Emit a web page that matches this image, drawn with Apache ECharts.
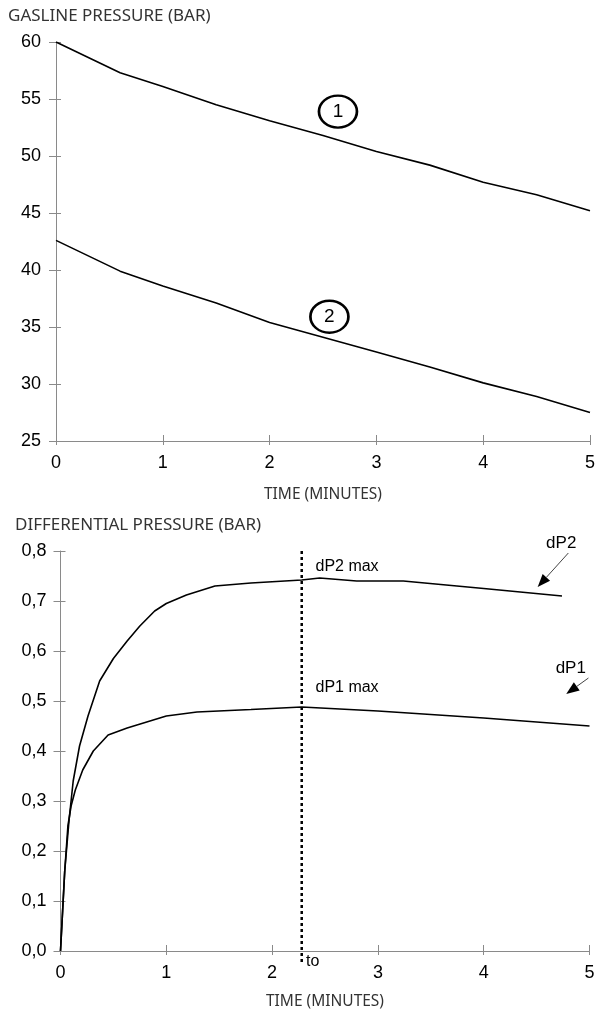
<!DOCTYPE html>
<html>
<head>
<meta charset="utf-8">
<script src="https://cdn.jsdelivr.net/npm/echarts@6/dist/echarts.min.js"></script>
<style>
  html, body { margin: 0; padding: 0; background: #fff; }
  #chart { width: 611px; height: 1011px; }
</style>
</head>
<body>
<div id="chart"></div>
<script>
// Gas line pressure over time (bar), two lines
const timeTicks = [0, 1, 2, 3, 4, 5];
const line1 = [[0, 60], [0.6, 57.3], [1, 56.1], [1.5, 54.5], [2, 53.1], [2.5, 51.8], [3, 50.4], [3.5, 49.2], [4, 47.7], [4.5, 46.6], [5, 45.2]];
const line2 = [[0, 42.6], [0.6, 39.9], [1, 38.6], [1.5, 37.1], [2, 35.4], [2.5, 34.1], [3, 32.8], [3.5, 31.5], [4, 30.1], [4.5, 28.9], [5, 27.5]];

// Differential pressure over time (bar)
const dP2 = [[0, 0], [0.02, 0.08], [0.04, 0.16], [0.08, 0.26], [0.12, 0.34], [0.18, 0.41], [0.26, 0.47], [0.37, 0.54], [0.5, 0.585], [0.63, 0.62], [0.75, 0.65], [0.89, 0.68], [1.0, 0.695], [1.19, 0.712], [1.46, 0.73], [1.8, 0.736], [2.28, 0.742], [2.45, 0.746], [2.8, 0.74], [3.24, 0.74], [4.0, 0.725], [4.74, 0.71]];
const dP1 = [[0, 0], [0.02, 0.08], [0.04, 0.16], [0.07, 0.25], [0.1, 0.29], [0.14, 0.322], [0.21, 0.362], [0.31, 0.4], [0.45, 0.432], [0.63, 0.446], [1.0, 0.47], [1.29, 0.478], [1.8, 0.483], [2.28, 0.488], [3.0, 0.48], [4.0, 0.466], [5.0, 0.45]];

// Time at which both differential pressures peak
const tMax = 2.28;

const chart = echarts.init(document.getElementById('chart'), null, { renderer: 'canvas' });

const tickFont = { fontFamily: 'Liberation Sans, Arial, sans-serif', fontSize: 18, color: '#000' };
const titleFont = { fontFamily: 'Noto Sans, sans-serif', fontSize: 15.5, color: '#333' };
const axisGrey = '#8a8a8a';

function xAxisPair(gridIndex, nameGap, margin) {
  return [
    {
      type: 'value', gridIndex, min: 0, max: 5, interval: 1,
      name: 'TIME (MINUTES)', nameLocation: 'middle', nameGap,
      nameTextStyle: titleFont,
      axisLine: { show: true, lineStyle: { color: axisGrey, width: 1 } },
      axisTick: { show: true, length: 4, lineStyle: { color: axisGrey } },
      axisLabel: Object.assign({ margin, formatter: v => String(v) }, tickFont),
      splitLine: { show: false }
    },
    {
      type: 'value', gridIndex, min: 0, max: 5, interval: 1, position: 'bottom',
      axisLine: { show: false },
      axisTick: { show: true, inside: true, length: 6, lineStyle: { color: axisGrey } },
      axisLabel: { show: false }, splitLine: { show: false }
    }
  ];
}

function yAxisPair(gridIndex, min, max, interval, fmt, margin) {
  return [
    {
      type: 'value', gridIndex, min, max, interval,
      axisLine: { show: true, lineStyle: { color: axisGrey, width: 1 } },
      axisTick: { show: true, length: 7, lineStyle: { color: axisGrey } },
      axisLabel: Object.assign({ margin, formatter: fmt }, tickFont),
      splitLine: { show: false }
    },
    {
      type: 'value', gridIndex, min, max, interval, position: 'left',
      axisLine: { show: false },
      axisTick: { show: true, inside: true, length: 5, lineStyle: { color: axisGrey } },
      axisLabel: { show: false }, splitLine: { show: false }
    }
  ];
}

const curveStyle = { color: '#000', width: 1.6 };

function ringMark(coord, text) {
  return {
    coord, symbol: 'circle', symbolSize: [38, 32],
    itemStyle: { color: 'rgba(0,0,0,0)', borderColor: '#000', borderWidth: 2.5 },
    label: {
      show: true, position: 'inside', formatter: text,
      fontFamily: 'Liberation Sans, Arial, sans-serif', fontSize: 19, color: '#000'
    }
  };
}

const option = {
  backgroundColor: '#fff',
  animation: false,
  grid: [
    { left: 56, top: 42, width: 534, height: 399 },
    { left: 60.5, top: 551, width: 529, height: 400 }
  ],
  xAxis: [...xAxisPair(0, 46, 13), ...xAxisPair(1, 43, 13)],
  yAxis: [
    ...yAxisPair(0, 25, 60, 5, v => String(v), 15),
    ...yAxisPair(1, 0, 0.8, 0.1, v => v.toFixed(1).replace('.', ','), 14)
  ],
  graphic: [
    { type: 'text', left: 8, top: 8, style: { text: 'GASLINE PRESSURE (BAR)', font: '17px "Noto Sans", sans-serif', fill: '#333' } },
    { type: 'text', left: 15, top: 517, style: { text: 'DIFFERENTIAL PRESSURE (BAR)', font: '17px "Noto Sans", sans-serif', fill: '#333' } }
  ],
  series: [
    {
      type: 'line', xAxisIndex: 0, yAxisIndex: 0, data: line1,
      symbol: 'none', lineStyle: curveStyle, silent: true,
      markPoint: { silent: true, data: [ringMark([2.64, 53.9], '1')] }
    },
    {
      type: 'line', xAxisIndex: 0, yAxisIndex: 0, data: line2,
      symbol: 'none', lineStyle: curveStyle, silent: true,
      markPoint: { silent: true, data: [ringMark([2.56, 35.9], '2')] }
    },
    {
      type: 'line', xAxisIndex: 2, yAxisIndex: 2, data: dP2,
      symbol: 'none', lineStyle: curveStyle, silent: true
    },
    {
      type: 'line', xAxisIndex: 2, yAxisIndex: 2, data: dP1,
      symbol: 'none', lineStyle: curveStyle, silent: true
    }
  ]
};

chart.setOption(option);

// Annotations for the differential-pressure panel, placed from data coordinates
const toPx = c => chart.convertToPixel({ xAxisIndex: 2, yAxisIndex: 2 }, c);

function label(coord, text, size) {
  const p = toPx(coord);
  return {
    type: 'text', x: p[0], y: p[1], silent: true,
    style: { text, font: (size || 16) + 'px "Liberation Sans", Arial, sans-serif', fill: '#000', textVerticalAlign: 'middle', textAlign: 'left' }
  };
}

function arrowShape(from, to) {
  const a = toPx(from), b = toPx(to);
  const ang = Math.atan2(b[1] - a[1], b[0] - a[0]);
  const len = 13, half = 5;
  const bx = b[0] - len * Math.cos(ang), by = b[1] - len * Math.sin(ang);
  const nx = -Math.sin(ang) * half, ny = Math.cos(ang) * half;
  return [
    { type: 'line', silent: true, shape: { x1: a[0], y1: a[1], x2: bx, y2: by }, style: { stroke: '#444', lineWidth: 1 } },
    { type: 'polygon', silent: true, shape: { points: [[b[0], b[1]], [bx + nx, by + ny], [bx - nx, by - ny]] }, style: { fill: '#000' } }
  ];
}

const lo = toPx([tMax, -0.022]), hi = toPx([tMax, 0.8]);
const extra = [
  { type: 'line', silent: true, shape: { x1: lo[0], y1: lo[1], x2: hi[0], y2: hi[1] }, style: { stroke: '#000', lineWidth: 2.5, lineDash: [3, 3] } },
  label([2.41, 0.768], 'dP2 max'),
  label([2.41, 0.526], 'dP1 max'),
  label([4.59, 0.816], 'dP2', 17),
  label([4.68, 0.566], 'dP1', 17),
  label([2.32, -0.022], 'to'),
  ...arrowShape([4.80, 0.796], [4.51, 0.728]),
  ...arrowShape([4.99, 0.546], [4.78, 0.514])
];

chart.setOption({ graphic: option.graphic.concat(extra) });
</script>
</body>
</html>
